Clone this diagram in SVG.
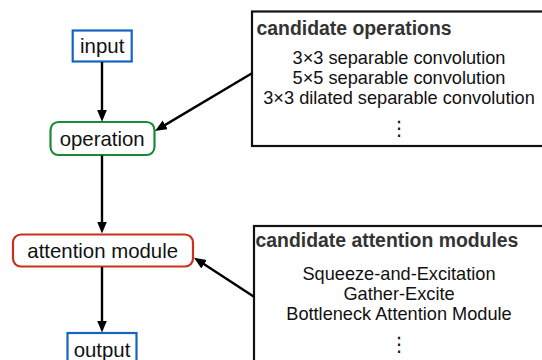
<svg xmlns="http://www.w3.org/2000/svg" width="542" height="360" viewBox="0 0 542 360">
<defs>
<marker id="ah" markerUnits="userSpaceOnUse" markerWidth="14" markerHeight="12" refX="3" refY="5" orient="auto">
<path d="M0,0 L12,5 L0,10 z" fill="#000"/>
</marker>
<style>
.node{fill:#fff;stroke-width:2.2}
.nt{font-family:"Liberation Sans",Arial,sans-serif;font-size:20.4px;fill:#111;text-anchor:middle}
.box{fill:#fff;stroke:#111;stroke-width:2.2}
.tt{font-family:"Liberation Sans",Arial,sans-serif;font-size:19.4px;font-weight:bold;fill:#333}
.it{font-family:"Liberation Sans",Arial,sans-serif;font-size:18.2px;fill:#111;text-anchor:middle}
.el{font-family:"DejaVu Sans",sans-serif;font-size:20px;fill:#111;text-anchor:middle}
.cn{stroke:#000;stroke-width:2.4;fill:none;marker-end:url(#ah)}
</style>
</defs>
<rect width="542" height="360" fill="#fff"/>
<g id="candidate-operations">
<rect class="box" x="252" y="11.5" width="300" height="134.5"/>
<text class="tt" x="256.5" y="35">candidate operations</text>
<text class="it" x="399" y="64.3">3×3 separable convolution</text>
<text class="it" x="399" y="84">5×5 separable convolution</text>
<text class="it" x="399" y="104">3×3 dilated separable convolution</text>
<text class="el" x="399" y="134.5">⋮</text>
</g>
<g id="candidate-attention-modules">
<rect class="box" x="254" y="226" width="300" height="150"/>
<text class="tt" x="255.5" y="246.5">candidate attention modules</text>
<text class="it" x="399" y="280">Squeeze-and-Excitation</text>
<text class="it" x="399" y="300">Gather-Excite</text>
<text class="it" x="399" y="320">Bottleneck Attention Module</text>
<text class="el" x="399" y="351">⋮</text>
</g>
<g id="input">
<rect class="node" x="72.7" y="30.5" width="59" height="31" stroke="#1565c0"/>
<text class="nt" x="102.2" y="53.2">input</text>
</g>
<g id="operation">
<rect class="node" x="50.5" y="122" width="104" height="33" rx="8" stroke="#1a8a35"/>
<text class="nt" x="102.2" y="145.6">operation</text>
</g>
<g id="attention-module">
<rect class="node" x="13" y="234.5" width="180" height="32" rx="8" stroke="#c8321a"/>
<text class="nt" x="102.7" y="257.8">attention module</text>
</g>
<g id="output">
<rect class="node" x="67.5" y="333" width="69" height="32" stroke="#1565c0"/>
<text class="nt" x="102" y="356.7">output</text>
</g>
<g id="connectors">
<line class="cn" x1="102" y1="62" x2="102" y2="112.7"/>
<line class="cn" x1="102" y1="155.5" x2="102" y2="224.5"/>
<line class="cn" x1="102" y1="267" x2="102" y2="323.5"/>
<line class="cn" x1="252" y1="73.3" x2="162.7" y2="126.4"/>
<line class="cn" x1="254" y1="296.7" x2="201.5" y2="262.6"/>
</g>
</svg>
